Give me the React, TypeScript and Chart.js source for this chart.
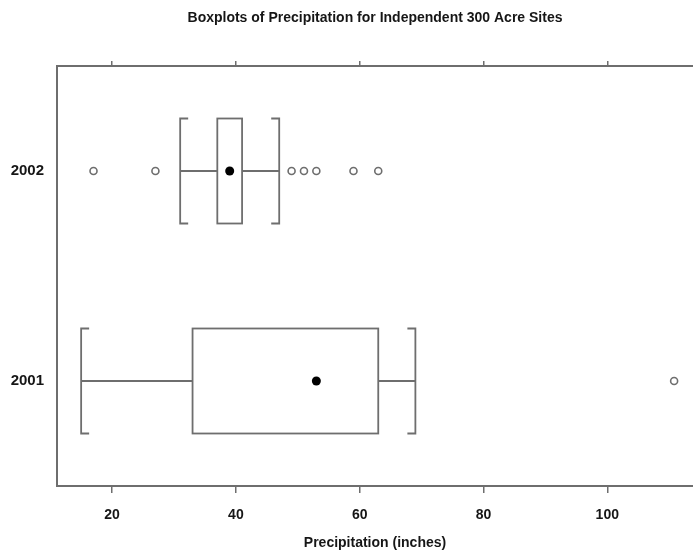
import { useEffect, useRef } from 'react';
import { Chart, registerables } from 'chart.js';

Chart.register(...registerables);

// Five-number summaries per year (precipitation, inches)
const years = ['2001', '2002'];
const yearPositions = [1, 2];
const whiskerLow = [15, 31];
const lowerQuartile = [33, 37];
const medians = [53, 39];
const upperQuartile = [63, 41];
const whiskerHigh = [69, 47];
const outliers2001 = [110.8];
const outliers2002 = [17, 27, 49, 51, 53, 59, 63];
const xTicks = [20, 40, 60, 80, 100];

const chartTitle = 'Boxplots of Precipitation for Independent 300 Acre Sites';
const xAxisTitle = 'Precipitation (inches)';

const X_MIN = 11.1;
const X_MAX = 113.85;
const LINE = '#6e6e6e';
const TEXT = '#161616';
const FAMILY = '"Liberation Sans", Arial, sans-serif';
const BOX_HALF = 0.25;
const SERIF = 8;

const boxPlugin = {
  id: 'boxWhisker',
  beforeDatasetsDraw(chart: any) {
    const { ctx } = chart;
    const xs = chart.scales.x;
    const ys = chart.scales.y;
    ctx.save();
    ctx.strokeStyle = LINE;
    ctx.lineWidth = 1.8;
    ctx.lineCap = 'butt';
    yearPositions.forEach((pos, i) => {
      const yc = ys.getPixelForValue(pos);
      const yt = ys.getPixelForValue(pos + BOX_HALF);
      const yb = ys.getPixelForValue(pos - BOX_HALF);
      const xl = xs.getPixelForValue(whiskerLow[i]);
      const x1 = xs.getPixelForValue(lowerQuartile[i]);
      const x3 = xs.getPixelForValue(upperQuartile[i]);
      const xh = xs.getPixelForValue(whiskerHigh[i]);
      ctx.strokeRect(x1, yt, x3 - x1, yb - yt);
      ctx.beginPath();
      ctx.moveTo(xl, yc);
      ctx.lineTo(x1, yc);
      ctx.moveTo(x3, yc);
      ctx.lineTo(xh, yc);
      // bracket-style whisker ends
      ctx.moveTo(xl + SERIF, yt);
      ctx.lineTo(xl, yt);
      ctx.lineTo(xl, yb);
      ctx.lineTo(xl + SERIF, yb);
      ctx.moveTo(xh - SERIF, yt);
      ctx.lineTo(xh, yt);
      ctx.lineTo(xh, yb);
      ctx.lineTo(xh - SERIF, yb);
      ctx.stroke();
    });
    ctx.restore();
  },
};

const titlePlugin = {
  id: 'plotTitle',
  afterDraw(chart: any) {
    const { ctx, chartArea } = chart;
    ctx.save();
    ctx.fillStyle = TEXT;
    ctx.font = `bold 14px ${FAMILY}`;
    ctx.textAlign = 'center';
    ctx.textBaseline = 'middle';
    ctx.fillText(chartTitle, (chartArea.left + chartArea.right) / 2, 18);
    ctx.restore();
  },
};

export default function App() {
  const canvasRef = useRef<HTMLCanvasElement | null>(null);

  useEffect(() => {
    document.body.style.margin = '0';
    const canvas = canvasRef.current;
    if (!canvas) return;

    const outlierPoints = [
      ...outliers2001.map((v) => ({ x: v, y: yearPositions[0] })),
      ...outliers2002.map((v) => ({ x: v, y: yearPositions[1] })),
    ];
    const medianPoints = medians.map((v, i) => ({ x: v, y: yearPositions[i] }));
    const tickFont = { family: FAMILY, size: 14, weight: 'bold' as const };
    const yFont = { family: FAMILY, size: 15, weight: 'bold' as const };

    const chart = new Chart(canvas, {
      type: 'scatter',
      data: {
        datasets: [
          {
            label: 'Outliers',
            data: outlierPoints,
            pointRadius: 3.5,
            pointBorderWidth: 1.6,
            borderColor: LINE,
            backgroundColor: '#ffffff',
          },
          {
            label: 'Median',
            data: medianPoints,
            pointRadius: 4.5,
            pointBorderWidth: 0,
            borderColor: '#000000',
            backgroundColor: '#000000',
          },
        ],
      },
      options: {
        responsive: false,
        animation: false,
        layout: { autoPadding: false, padding: { top: 61, left: 0, right: 0, bottom: 0 } },
        plugins: {
          legend: { display: false },
          tooltip: { enabled: false },
          title: { display: false },
        },
        scales: {
          x: {
            type: 'linear',
            position: 'bottom',
            min: X_MIN,
            max: X_MAX,
            afterBuildTicks: (s: any) => {
              s.ticks = xTicks.map((v) => ({ value: v }));
            },
            afterFit: (s: any) => {
              s.height = 67;
              s.paddingLeft = 0;
              s.paddingRight = 0;
            },
            grid: { drawOnChartArea: false, tickLength: 7, color: LINE, lineWidth: 1.5 },
            border: { display: true, color: LINE, width: 2 },
            ticks: { color: TEXT, font: tickFont, padding: 14, maxRotation: 0 },
            title: {
              display: true,
              text: xAxisTitle,
              color: TEXT,
              font: tickFont,
              padding: { top: 2, bottom: 1 },
            },
          },
          x2: {
            type: 'linear',
            position: 'top',
            min: X_MIN,
            max: X_MAX,
            afterBuildTicks: (s: any) => {
              s.ticks = xTicks.map((v) => ({ value: v }));
            },
            afterFit: (s: any) => {
              s.height = 5;
              s.paddingLeft = 0;
              s.paddingRight = 0;
            },
            grid: { drawOnChartArea: false, tickLength: 5, color: LINE, lineWidth: 1.5 },
            border: { display: true, color: LINE, width: 2 },
            ticks: { display: false },
          },
          y: {
            type: 'linear',
            min: 0.5,
            max: 2.5,
            afterBuildTicks: (s: any) => {
              s.ticks = yearPositions.map((v) => ({ value: v }));
            },
            afterFit: (s: any) => {
              s.width = 57;
              s.paddingTop = 0;
              s.paddingBottom = 0;
            },
            grid: { display: false, drawTicks: false, tickLength: 0 },
            border: { display: true, color: LINE, width: 2 },
            ticks: {
              color: TEXT,
              font: yFont,
              padding: 13,
              callback: (v: any) => years[yearPositions.indexOf(Number(v))] ?? '',
            },
          },
        },
      },
      plugins: [boxPlugin, titlePlugin],
    });

    return () => chart.destroy();
  }, []);

  return (
    <div style={{ width: 693, height: 553 }}>
      <canvas ref={canvasRef} width={693} height={553} />
    </div>
  );
}
